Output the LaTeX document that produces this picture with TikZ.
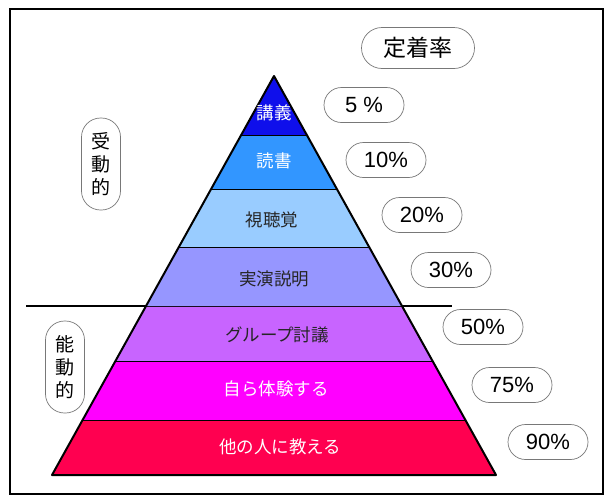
\documentclass[tikz,border=0pt]{standalone}
\usepackage{fontspec}
\setmainfont{Noto Sans CJK JP}
\newfontfamily\lat{Liberation Sans}
\usetikzlibrary{calc,shapes.misc}
\definecolor{cA}{RGB}{15,15,235}
\definecolor{cB}{RGB}{50,150,255}
\definecolor{cC}{RGB}{153,204,255}
\definecolor{cD}{RGB}{150,150,255}
\definecolor{cE}{RGB}{200,100,255}
\definecolor{cF}{RGB}{255,0,255}
\definecolor{cG}{RGB}{255,0,80}
\definecolor{pillgray}{RGB}{120,120,120}
\tikzset{
  pill/.style={draw=pillgray,line width=0.7pt,rounded rectangle,inner sep=0pt,fill=white},
  pct/.style={pill,minimum width=80pt,minimum height=35pt,font=\lat\fontsize{22}{24}\selectfont},
  vpill/.style={draw=pillgray,line width=0.7pt,rounded corners=19pt,minimum width=39pt,inner sep=0pt,align=center,font=\fontsize{19}{23}\selectfont},
  layer/.style={draw=black,line width=1.3pt,line join=round},
  lbl/.style={font=\fontsize{17.5}{18}\selectfont,inner sep=0pt},
}
\begin{document}
\begin{tikzpicture}[x=1pt,y=-1pt]
\useasboundingbox (0,0) rectangle (610,501);
\draw[line width=1.8pt] (10,9) rectangle (603,494);
% divider line
\coordinate (dl) at (26,306);
\coordinate (dr) at (452,306);
\draw[line width=1.2pt] (dl) -- (dr);
% pyramid
\coordinate (A) at (274,76);
\coordinate (BL) at (52,475);
\coordinate (BR) at (496,475);
\def\layer#1#2#3{%
  \fill[#3] ($(A)!#1!(BL)$) -- ($(A)!#2!(BL)$) -- ($(A)!#2!(BR)$) -- ($(A)!#1!(BR)$) -- cycle;
  \draw[layer] ($(A)!#2!(BL)$) -- ($(A)!#2!(BR)$);}
\layer{0}{0.1504}{cA}
\layer{0.1504}{0.2857}{cB}
\layer{0.2857}{0.4311}{cC}
\layer{0.4311}{0.5789}{cD}
\layer{0.5789}{0.7168}{cE}
\layer{0.7168}{0.8647}{cF}
\layer{0.8647}{1}{cG}
\draw[line width=2pt,line join=round] (BL) -- (A) -- (BR) -- cycle;
% layer labels
\node[lbl,text=white] (l1) at (274,113) {講義};
\node[lbl,text=white] (l2) at (274,161) {読書};
\node[lbl,text=black!85] (l3) at (272,220) {視聴覚};
\node[lbl,text=black!85] (l4) at (274,279) {実演説明};
\node[lbl,text=black!85] (l5) at (277,335) {グループ討議};
\node[lbl,text=white] (l6) at (276,389) {自ら体験する};
\node[lbl,text=white] (l7) at (280,447) {他の人に教える};
% retention title
\node[pill,minimum width=113pt,minimum height=41pt,font=\fontsize{23}{24}\selectfont] (title) at (418,48) {定着率};
% percentages
\node[pct] (p1) at (364,105) {5 \%};
\node[pct] (p2) at (386,160) {10\%};
\node[pct] (p3) at (422,215) {20\%};
\node[pct] (p4) at (451,270) {30\%};
\node[pct] (p5) at (483,327) {50\%};
\node[pct] (p6) at (512,385) {75\%};
\node[pct] (p7) at (548,442) {90\%};
% passive / active
\node[vpill,minimum height=92pt] (passive) at (101,164) {受\\動\\的};
\node[vpill,minimum height=92pt] (active) at (65,367) {能\\動\\的};
\end{tikzpicture}
\end{document}
